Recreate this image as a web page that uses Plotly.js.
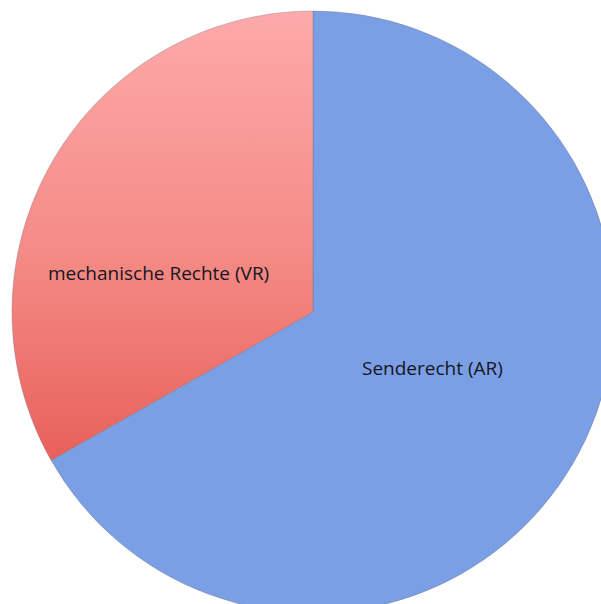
<!DOCTYPE html>
<html>
<head>
<meta charset="utf-8">
<script src="https://cdn.plot.ly/plotly-3.0.1.min.js"></script>
<style>
html,body{margin:0;padding:0;background:#fff;overflow:hidden;width:601px;height:604px;}
#chart{width:626px;height:626px;}
</style>
</head>
<body>
<div id="chart"></div>
<script>
const labels = ["Senderecht (AR)", "mechanische Rechte (VR)"];
const values = [66.8, 33.2];
const colors = ["#7b9fe4", "#f2847f"];

const labelFont = {family: "'Open Sans', Lato, sans-serif", size: 19, color: "#15151f"};

const trace = {
  type: "pie",
  labels: labels,
  values: values,
  sort: false,
  direction: "clockwise",
  rotation: 0,
  marker: {colors: colors, line: {color: "rgba(110,110,130,0.35)", width: 1}},
  textinfo: "none",
  hoverinfo: "none"
};

const layout = {
  width: 626,
  height: 626,
  margin: {l: 12, r: 12, t: 11, b: 13, pad: 0},
  showlegend: false,
  paper_bgcolor: "#ffffff",
  plot_bgcolor: "#ffffff",
  annotations: [
    {text: labels[0], xref: "paper", yref: "paper", x: 0.698, y: 0.407, showarrow: false, font: labelFont, xanchor: "center", yanchor: "middle"},
    {text: labels[1], xref: "paper", yref: "paper", x: 0.244, y: 0.565, showarrow: false, font: labelFont, xanchor: "center", yanchor: "middle"}
  ]
};

Plotly.newPlot("chart", [trace], layout, {staticPlot: true, displayModeBar: false}).then(function(gd){
  const svg = gd.querySelector("svg.main-svg");
  const ns = "http://www.w3.org/2000/svg";
  let defs = svg.querySelector("defs");
  if (!defs) { defs = document.createElementNS(ns, "defs"); svg.insertBefore(defs, svg.firstChild); }
  const grad = document.createElementNS(ns, "linearGradient");
  grad.setAttribute("id", "redGrad");
  grad.setAttribute("x1", "0"); grad.setAttribute("y1", "0");
  grad.setAttribute("x2", "0"); grad.setAttribute("y2", "1");
  [["0", "#fdaaaa"], ["0.55", "#f48a85"], ["1", "#e8605a"]].forEach(function(s){
    const st = document.createElementNS(ns, "stop");
    st.setAttribute("offset", s[0]); st.setAttribute("stop-color", s[1]);
    grad.appendChild(st);
  });
  defs.appendChild(grad);
  const paths = gd.querySelectorAll(".slice path.surface");
  if (paths[1]) paths[1].style.fill = "url(#redGrad)";
});
</script>
</body>
</html>
